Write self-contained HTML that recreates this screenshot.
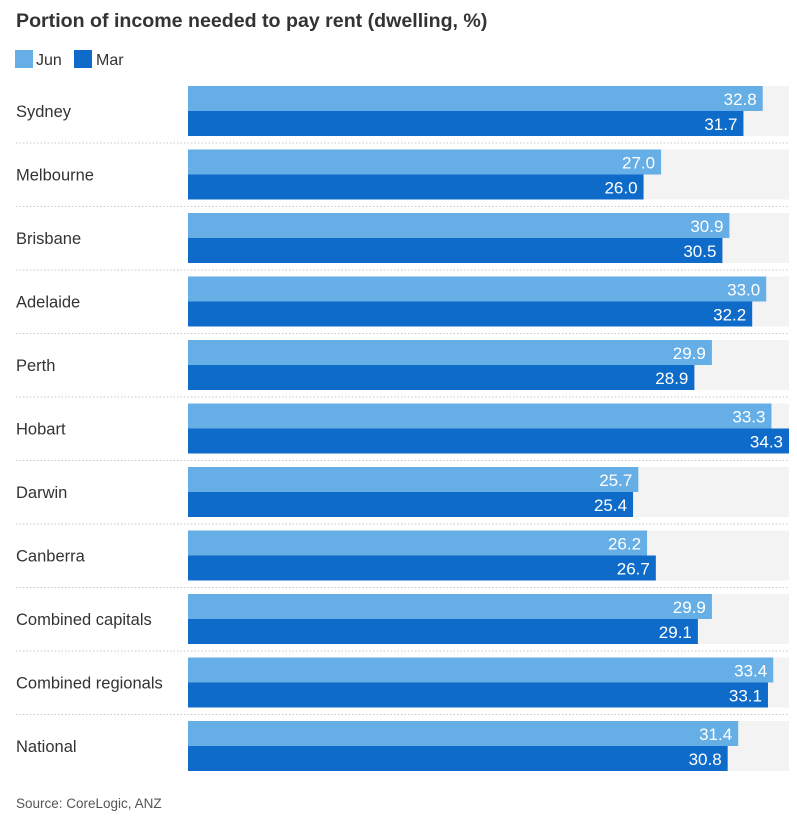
<!DOCTYPE html>
<html><head><meta charset="utf-8"><style>
body{margin:0;background:#fff;width:797px;height:819px;overflow:hidden;font-family:"Liberation Sans",sans-serif;}
</style></head><body>
<svg id="chart" width="797" height="819" xmlns="http://www.w3.org/2000/svg" font-family="Liberation Sans, sans-serif">
<text x="16" y="27" font-size="19.6" font-weight="bold" fill="#333">Portion of income needed to pay rent (dwelling, %)</text>
<g>
<rect x="15" y="50" width="18" height="18" fill="#66aee6"/>
<text x="36" y="65" font-size="16" fill="#333">Jun</text>
<rect x="74" y="50" width="18" height="18" fill="#0f6bc9"/>
<text x="96" y="65" font-size="16" fill="#333">Mar</text>
</g>
<g id="rows"></g>
<text x="16" y="808" font-size="13.5" fill="#555">Source: CoreLogic, ANZ</text>
</svg>
<script>
const categories=["Sydney","Melbourne","Brisbane","Adelaide","Perth","Hobart","Darwin","Canberra","Combined capitals","Combined regionals","National"];
const junValues=[32.8,27.0,30.9,33.0,29.9,33.3,25.7,26.2,29.9,33.4,31.4];
const marValues=[31.7,26.0,30.5,32.2,28.9,34.3,25.4,26.7,29.1,33.1,30.8];
const xMax=34.3;
const NS="http://www.w3.org/2000/svg";
const g=document.getElementById('rows');
const x0=188,x1=789,top0=86,pitch=63.5,bh=25;
function xs(v){return x0+(x1-x0)*v/xMax;}
function mk(t,a){const e=document.createElementNS(NS,t);for(const k in a)e.setAttribute(k,a[k]);g.appendChild(e);return e;}
categories.forEach((c,i)=>{
 const y=top0+i*pitch;
 const bg=mk('rect',{x:x0,y:y,width:x1-x0,height:bh*2,fill:'#f3f3f3'});
 
 
 const lab=mk('text',{x:16,y:y+bh+6,'font-size':16.5,fill:'#333'});
 lab.textContent=c;
 
 
 [[junValues[i],'#66aee6',0,'bar-jun'],[marValues[i],'#0f6bc9',bh,'bar-mar']].forEach(([v,col,off,nm])=>{
  const r=mk('rect',{x:x0,y:y+off,width:xs(v)-x0,height:bh,fill:col});
  
  
  const t=mk('text',{x:xs(v)-6,y:y+off+19,'font-size':17,fill:'#fff','text-anchor':'end'});
  t.textContent=v.toFixed(1);
  
  
 });
 if(i<categories.length-1){
  const l=mk('line',{x1:16,x2:789,y1:y+57,y2:y+57,stroke:'#c8c8c8','stroke-width':1,'stroke-dasharray':'1.5,2'});
  
  
 }
});
</script>
</body></html>
